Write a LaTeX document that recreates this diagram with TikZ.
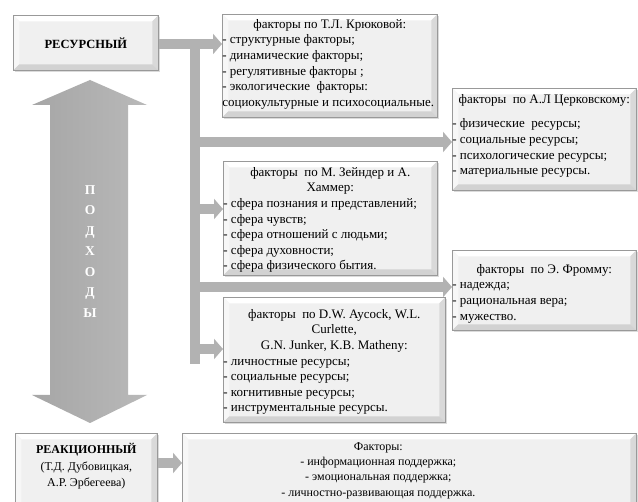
\documentclass[tikz,border=0pt]{standalone}
\usepackage{fontspec}
\setmainfont{Liberation Serif}
\usetikzlibrary{arrows.meta,shadows}
\newcommand\boxtext[3]{\parbox[c][#2][t]{#1}{#3}}
\tikzset{
  panel/.style={draw=gray!80, line width=0.6pt, fill=gray!12, inner sep=0pt, anchor=north west,
    drop shadow={shadow xshift=2pt, shadow yshift=-2pt, opacity=0.35, fill=gray!80},
    path picture={
      \fill[white] (path picture bounding box.north west) -- (path picture bounding box.north east)
        -- ([shift={(-6pt,-6pt)}]path picture bounding box.north east)
        -- ([shift={(6pt,-6pt)}]path picture bounding box.north west) -- cycle;
      \fill[white!70!gray!20] (path picture bounding box.north west) -- ([shift={(6pt,-6pt)}]path picture bounding box.north west)
        -- ([shift={(6pt,6pt)}]path picture bounding box.south west) -- (path picture bounding box.south west) -- cycle;
      \fill[gray!30] (path picture bounding box.north east) -- ([shift={(-6pt,-6pt)}]path picture bounding box.north east)
        -- ([shift={(-6pt,6pt)}]path picture bounding box.south east) -- (path picture bounding box.south east) -- cycle;
      \fill[gray!35] (path picture bounding box.south west) -- ([shift={(6pt,6pt)}]path picture bounding box.south west)
        -- ([shift={(-6pt,6pt)}]path picture bounding box.south east) -- (path picture bounding box.south east) -- cycle;
    }},
  bar/.style={draw=gray!60, line width=10pt, -{Triangle[length=9pt,width=20pt]}},
  spine/.style={draw=gray!60, line width=10pt},
  txt/.style={font=\fontsize{13}{15.6}\selectfont},
}
\begin{document}
\begin{tikzpicture}[x=1pt,y=-1pt]
\useasboundingbox[fill=white] (0,0) rectangle (638,502);

% double arrow
\shade[left color=gray!70, right color=gray!55] (90,80) -- (147,105) -- (128,105) -- (128,395) -- (147,395)
  -- (90,423) -- (32,395) -- (50,395) -- (50,105) -- (32,105) -- cycle;
\node[font=\bfseries\fontsize{13.5}{20.5}\selectfont, text=white, align=center] (podh) at (90,251.5)
  {П\\О\\Д\\Х\\О\\Д\\Ы};

% boxes
\node[panel, minimum width=145pt, minimum height=55pt, font=\bfseries\fontsize{12.5}{15}\selectfont] (res) at (13,15) {РЕСУРСНЫЙ};

\node[panel, txt] (kr) at (222,14) {\boxtext{215pt}{103pt}{\vspace{5pt}\centering факторы по Т.Л. Крюковой:\par
\raggedright - структурные факторы;\\
- динамические факторы;\\
- регулятивные факторы ;\\
- экологические\ \ факторы:\\
социокультурные и психосоциальные.}};

\node[panel, txt] (tserk) at (452,88) {\boxtext{184pt}{102pt}{\vspace{6pt}\centering факторы\ \ по А.Л Церковскому:\par\vspace{9pt}
\raggedright - физические\ \ ресурсы;\\
- социальные ресурсы;\\
- психологические ресурсы;\\
- материальные ресурсы.}};

\node[panel, txt] (zein) at (223,161) {\boxtext{214pt}{114pt}{\vspace{6pt}\centering факторы\ \ по М. Зейндер и А.\\ Хаммер:\par
\raggedright - сфера познания и представлений;\\
- сфера чувств;\\
- сфера отношений с людьми;\\
- сфера духовности;\\
- сфера физического бытия.}};

\node[panel, txt] (from) at (452,250) {\boxtext{184pt}{80pt}{\vspace{14pt}\centering факторы\ \ по Э. Фромму:\par
\raggedright - надежда;\\
- рациональная вера;\\
- мужество.}};

\node[panel, txt] (ay) at (223,297) {\boxtext{222pt}{125pt}{\vspace{12pt}\centering факторы\ \ по D.W. Aycock, W.L.\\ Curlette,\\ G.N. Junker, K.B. Matheny:\par
\raggedright - личностные ресурсы;\\
- социальные ресурсы;\\
- когнитивные ресурсы;\\
- инструментальные ресурсы.}};

\node[panel, font=\fontsize{12}{16.5}\selectfont] (react) at (15,433) {\boxtext{142pt}{80pt}{\vspace{10pt}\centering {\bfseries РЕАКЦИОННЫЙ}\\ (Т.Д. Дубовицкая,\\ А.Р. Эрбегеева)}};

\node[panel, font=\fontsize{12}{15.4}\selectfont] (fact) at (182,433) {\boxtext{392pt}{80pt}{\vspace{9pt}\centering Факторы:\\
- информационная поддержка;\\
- эмоциональная поддержка;\\
- личностно-развивающая поддержка.}\rule{62pt}{0pt}};

% connectors
\coordinate (sTop) at (195,44);
\coordinate (sBot) at (195,364);
\draw[spine] (sTop) -- (sBot);
\draw[bar] (res.east |- sTop) -- (kr.west |- sTop);
\coordinate (b1) at (195,142);
\coordinate (b2) at (195,209);
\coordinate (b3) at (195,287);
\coordinate (b4) at (195,349);
\draw[bar] (b1) -- (b1 -| tserk.west);
\draw[bar] (b2) -- (b2 -| zein.west);
\draw[bar] (b3) -- (b3 -| from.west);
\draw[bar] (b4) -- (b4 -| ay.west);
\coordinate (ra) at (react.east |- 0,463);
\draw[bar] (ra) -- (ra -| fact.west);
\end{tikzpicture}
\end{document}
